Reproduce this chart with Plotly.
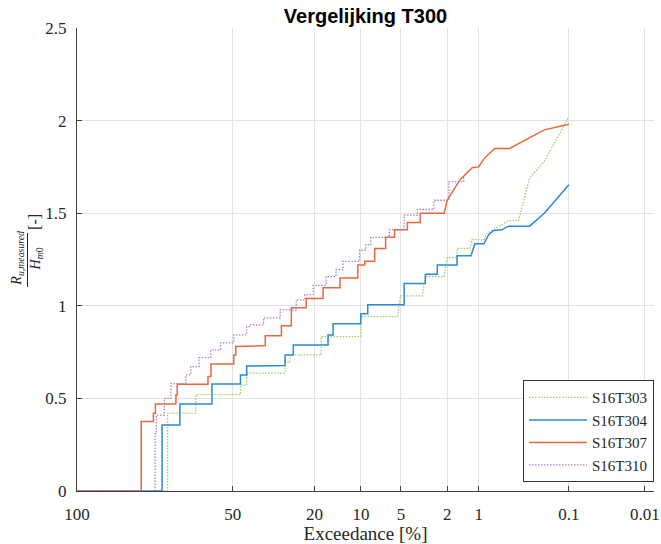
import numpy as np
import plotly.graph_objects as go

# ---------------- data (exceedance [%], R_u/Hm0 [-]) ----------------
tick_pct = [100, 50, 20, 10, 5, 2, 1, 0.1, 0.01]
tick_labels = ["100", "50", "20", "10", "5", "2", "1", "0.1", "0.01"]
y_ticks = [0, 0.5, 1, 1.5, 2, 2.5]
y_tick_labels = ["0", "0.5", "1", "1.5", "2", "2.5"]

s303_p = [100, 79.11, 79.11, 66.84, 66.84, 46.64, 46.64, 43.95, 43.95, 29.05, 29.05, 27.36,
          27.36, 18.24, 18.24, 10.03, 10.03, 5.32, 5.04, 3.32, 3.13, 2.13, 2.00, 1.62, 1.62,
          1.22, 1.16, 0.886, 0.827, 0.489, 0.382, 0.289, 0.196, 0.1]
s303_v = [0, 0, 0.42, 0.42, 0.52, 0.52, 0.573, 0.573, 0.637, 0.637, 0.694, 0.694, 0.735,
          0.735, 0.834, 0.834, 0.942, 0.942, 1.054, 1.054, 1.158, 1.158, 1.26, 1.26, 1.31,
          1.31, 1.357, 1.357, 1.39, 1.46, 1.46, 1.69, 1.78, 2.02]

s304_p = [100, 81.34, 81.34, 73.91, 73.91, 59.45, 59.45, 46.64, 46.64, 43.95, 43.95, 29.05,
          29.05, 26.29, 26.29, 16.54, 16.54, 15.39, 15.39, 10.03, 10.03, 8.95, 8.95, 4.71,
          4.71, 3.13, 3.13, 2.46, 2.46, 1.62, 1.62, 1.19, 1.09, 0.886, 0.789, 0.702, 0.580,
          0.489, 0.289, 0.196, 0.1]
s304_v = [0, 0, 0.357, 0.357, 0.47, 0.47, 0.578, 0.578, 0.627, 0.627, 0.675, 0.677, 0.735,
          0.735, 0.789, 0.789, 0.843, 0.843, 0.903, 0.903, 0.957, 0.957, 1.005, 1.005, 1.12,
          1.12, 1.17, 1.17, 1.22, 1.22, 1.27, 1.27, 1.335, 1.335, 1.385, 1.407, 1.41, 1.43,
          1.43, 1.50, 1.654]

s307_p = [100, 88.9, 88.9, 84.65, 84.65, 83.91, 83.91, 75.62, 75.62, 75.07, 75.07, 61.27,
          61.27, 59.91, 59.91, 49.57, 49.57, 48.69, 48.69, 36.36, 36.36, 30.33, 30.33, 26.94,
          26.94, 22.31, 22.31, 17.74, 17.74, 13.88, 13.88, 10.52, 10.52, 9.40, 9.40, 7.97,
          7.97, 6.59, 6.59, 5.62, 5.62, 4.43, 4.43, 3.46, 3.46, 2.13, 2.00, 1.52, 1.16, 1.00,
          0.866, 0.685, 0.478, 0.196, 0.1]
s307_v = [0, 0, 0.375, 0.375, 0.42, 0.42, 0.47, 0.47, 0.52, 0.52, 0.577, 0.577, 0.618,
          0.618, 0.686, 0.686, 0.735, 0.735, 0.78, 0.785, 0.838, 0.838, 0.892, 0.892, 0.99,
          0.99, 1.04, 1.04, 1.097, 1.097, 1.15, 1.15, 1.22, 1.22, 1.24, 1.24, 1.31, 1.31,
          1.37, 1.37, 1.41, 1.41, 1.45, 1.45, 1.50, 1.50, 1.57, 1.68, 1.745, 1.75, 1.80,
          1.85, 1.85, 1.95, 1.98]

s310_p = [100, 84.02, 84.02, 83.53, 83.53, 81.23, 80.44, 78.42, 77.72, 73.48, 71.30, 69.08,
          65.36, 60.04, 55.51, 49.57, 43.95, 42.40, 37.02, 30.79, 25.33, 22.69, 20.34, 17.01,
          14.73, 13.27, 10.24, 9.25, 8.52, 6.18, 4.71, 3.66, 2.63, 1.93, 1.40]
s310_v = [0, 0, 0.31, 0.31, 0.41, 0.41, 0.50, 0.50, 0.58, 0.58, 0.627, 0.672, 0.72, 0.762,
          0.80, 0.843, 0.888, 0.897, 0.935, 0.978, 1.032, 1.06, 1.11, 1.158, 1.195, 1.24,
          1.30, 1.33, 1.37, 1.41, 1.49, 1.52, 1.57, 1.67, 1.70]


# Rayleigh probability scale: x = sqrt(-ln(P_exceedance))
def rayleigh(p):
    p = np.asarray(p, dtype=float) / 100.0
    return np.sqrt(np.abs(-np.log(p)))


SERIF = "Liberation Serif, Times New Roman, serif"
AX = "#404040"
GRID = "#e2e2e2"
DOT = "1.5px,1.5px"

fig = go.Figure()
fig.add_trace(go.Scatter(x=rayleigh(s303_p), y=s303_v, mode="lines", name="S16T303",
                         line=dict(color="#9bcb68", width=1.3, dash=DOT)))
fig.add_trace(go.Scatter(x=rayleigh(s304_p), y=s304_v, mode="lines", name="S16T304",
                         line=dict(color="#2a8ad2", width=1.5)))
fig.add_trace(go.Scatter(x=rayleigh(s307_p), y=s307_v, mode="lines", name="S16T307",
                         line=dict(color="#e8683b", width=1.5)))
fig.add_trace(go.Scatter(x=rayleigh(s310_p), y=s310_v, mode="lines", name="S16T310",
                         line=dict(color="#b27bc6", width=1.3, dash=DOT, shape="hv")))

# y-axis label as a stacked fraction
W, H = 583.0, 463.0
def px(x):
    return (x - 77.0) / W
def py(y):
    return (491.0 - y) / H

annotations = [
    dict(text="<i>R</i><sub><i>u,measured</i></sub>", x=px(16), y=py(258), xref="paper",
         yref="paper", showarrow=False, textangle=-90, xanchor="center", yanchor="middle",
         font=dict(family=SERIF, size=14, color="#262626")),
    dict(text="<i>H</i><sub><i>m</i>0</sub>", x=px(36), y=py(259), xref="paper",
         yref="paper", showarrow=False, textangle=-90, xanchor="center", yanchor="middle",
         font=dict(family=SERIF, size=14, color="#262626")),
    dict(text="[-]", x=px(33.5), y=py(222), xref="paper", yref="paper", showarrow=False,
         textangle=-90, xanchor="center", yanchor="middle",
         font=dict(family=SERIF, size=16, color="#262626")),
]
shapes = [dict(type="line", xref="paper", yref="paper", x0=px(27), x1=px(27),
               y0=py(287), y1=py(233), line=dict(color="#262626", width=1))]

fig.update_layout(
    width=661, height=544,
    margin=dict(l=77, r=1, t=28, b=53),
    paper_bgcolor="white", plot_bgcolor="white",
    title=dict(text="<b>Vergelijking T300</b>", x=0.5, xref="paper", xanchor="center",
               y=1 - 16 / 544, yref="container", yanchor="middle",
               font=dict(family="Liberation Sans, Arial, sans-serif", size=20, color="black")),
    xaxis=dict(range=[0, 3.083], tickvals=rayleigh(tick_pct), ticktext=tick_labels,
               showgrid=True, gridcolor=GRID, gridwidth=1, zeroline=False,
               showline=True, linecolor=AX, linewidth=1, ticks="inside", ticklen=5,
               tickcolor=AX, ticklabelstandoff=8, ticklabeloverflow="allow",
               tickfont=dict(family=SERIF, size=17, color="#262626"),
               title=dict(text="Exceedance [%]", standoff=4,
                          font=dict(family=SERIF, size=19, color="#262626"))),
    yaxis=dict(range=[0, 2.5], tickvals=y_ticks, ticktext=y_tick_labels,
               showgrid=True, gridcolor=GRID, gridwidth=1, zeroline=False,
               showline=True, linecolor=AX, linewidth=1, ticks="inside", ticklen=5,
               tickcolor=AX, ticklabelstandoff=6,
               tickfont=dict(family=SERIF, size=17, color="#262626")),
    legend=dict(x=1, xanchor="right", y=0.019, yanchor="bottom", bgcolor="white",
                bordercolor="#333333", borderwidth=1, itemwidth=58,
                font=dict(family=SERIF, size=15, color="#262626"), tracegroupgap=0),
    annotations=annotations, shapes=shapes,
    showlegend=True,
)

fig.write_html("out.html", config={"displayModeBar": False},
               post_script="document.body.style.margin='0px';document.body.style.overflow='hidden';")
